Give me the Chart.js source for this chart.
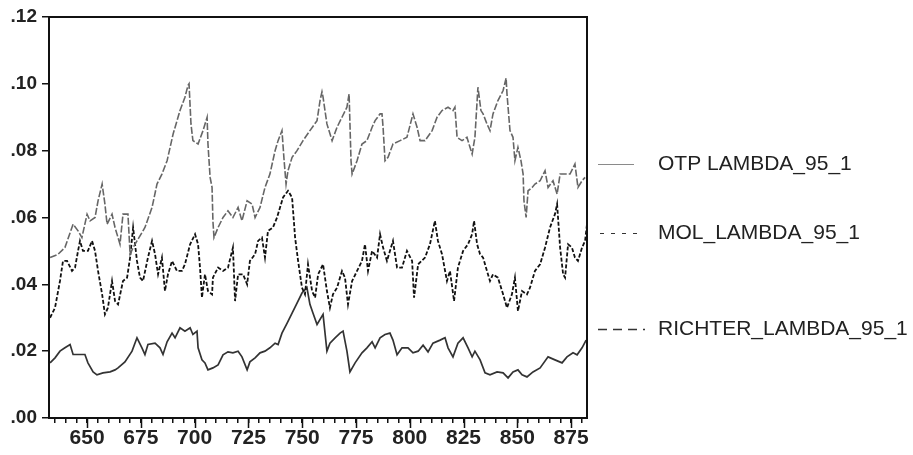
<!DOCTYPE html>
<html>
<head>
<meta charset="utf-8">
<script src="https://cdn.jsdelivr.net/npm/chart.js@4.4.1/dist/chart.umd.min.js"></script>
<style>
  body { margin: 0; background: #fff; }
  canvas { display: block; }
</style>
</head>
<body>
<canvas id="chart" width="913" height="455"></canvas>
<script>
const otpObs = [632.8, 636.5, 639.7, 643.5, 645.8, 647.6, 650.0, 651.4, 653.7, 655.1, 657.0, 658.3, 659.3, 661.6, 663.0, 665.3, 666.7, 669.0, 670.0, 671.4, 673.2, 676.9, 680.2, 682.5, 684.8, 687.2, 690.0, 693.2, 695.5, 696.9, 697.4, 698.3, 699.2, 701.6, 703.9, 705.8, 706.2, 707.2, 708.1, 708.5, 709.0, 710.9, 713.2, 715.5, 717.8, 720.2, 722.0, 724.4, 726.7, 728.1, 730.4, 732.7, 735.0, 737.4, 738.8, 740.6, 741.6, 742.5, 743.4, 745.3, 747.6, 750.4, 753.6, 756.9, 758.3, 759.2, 759.7, 761.5, 763.9, 766.2, 768.5, 770.8, 771.8, 772.7, 773.2, 775.5, 777.8, 780.1, 782.5, 783.9, 786.2, 787.1, 787.6, 788.5, 789.9, 792.2, 795.5, 798.7, 801.5, 803.4, 804.8, 807.1, 810.4, 812.7, 815.0, 817.8, 820.1, 821.0, 822.0, 824.3, 826.6, 828.0, 829.0, 830.3, 831.7, 833.1, 834.1, 835.9, 837.3, 838.7, 841.0, 843.4, 844.8, 845.2, 846.6, 848.0, 848.9, 850.3, 851.7, 852.7, 853.1, 854.1, 855.0, 856.9, 858.2, 860.6, 862.9, 864.3, 866.6, 868.5, 869.9, 872.2, 874.5, 876.8, 878.2, 880.1, 881.5];
const otpVal = [.048, .049, .051, .058, .056, .054, .061, .059, .060, .065, .070, .064, .058, .061, .057, .052, .061, .061, .049, .051, .053, .057, .063, .070, .073, .077, .085, .092, .096, .0995, .100, .088, .083, .082, .086, .090, .082, .072, .069, .059, .054, .057, .060, .062, .060, .063, .059, .065, .064, .060, .063, .069, .073, .080, .083, .086, .077, .070, .074, .078, .080, .083, .086, .089, .095, .0976, .096, .088, .083, .087, .090, .093, .097, .077, .073, .077, .082, .083, .087, .089, .091, .091, .087, .077, .078, .082, .083, .084, .091, .087, .083, .083, .086, .090, .092, .093, .092, .093, .084, .083, .084, .081, .079, .084, .099, .092, .091, .088, .086, .091, .095, .098, .1017, .097, .086, .084, .077, .081, .077, .073, .065, .060, .068, .069, .070, .071, .074, .069, .071, .067, .073, .073, .073, .076, .069, .071, .072];

const molObs = [632.8, 635.1, 637.4, 638.8, 640.7, 643.0, 644.4, 645.8, 646.7, 648.1, 650.4, 652.3, 653.7, 655.1, 657.0, 658.3, 659.7, 661.6, 663.0, 664.4, 666.7, 668.6, 670.0, 671.4, 673.2, 674.6, 676.0, 678.3, 680.2, 681.6, 683.0, 684.8, 686.2, 687.6, 689.5, 691.8, 694.1, 695.5, 697.9, 700.2, 701.6, 702.5, 703.4, 704.8, 706.2, 708.1, 708.5, 710.9, 713.2, 715.5, 717.8, 718.8, 720.2, 722.5, 724.4, 725.7, 728.1, 729.5, 731.3, 732.7, 734.1, 736.4, 738.3, 739.7, 741.1, 743.4, 745.3, 746.7, 748.1, 749.9, 751.3, 752.7, 754.6, 756.0, 757.4, 759.7, 761.5, 762.9, 764.3, 766.2, 768.5, 769.9, 771.3, 773.2, 775.5, 777.8, 779.2, 780.6, 782.5, 784.8, 786.2, 787.6, 789.4, 792.2, 794.1, 796.4, 798.7, 801.1, 802.0, 803.9, 807.1, 809.4, 811.7, 813.1, 815.0, 817.3, 818.7, 820.6, 822.4, 824.8, 827.1, 829.0, 829.9, 831.3, 832.7, 834.1, 835.9, 837.3, 838.7, 841.0, 843.4, 845.2, 847.5, 848.9, 850.3, 852.2, 854.5, 855.9, 858.2, 860.6, 862.9, 865.2, 867.5, 868.5, 869.9, 871.3, 872.2, 873.6, 875.4, 876.8, 878.2, 880.1, 881.5, 882.4];
const molVal = [.030, .033, .041, .047, .047, .044, .045, .050, .053, .050, .050, .053, .050, .044, .037, .031, .033, .041, .035, .034, .041, .042, .048, .057, .047, .042, .041, .048, .053, .049, .043, .048, .038, .043, .047, .044, .044, .046, .052, .055, .052, .045, .036, .043, .038, .037, .042, .045, .044, .045, .051, .035, .043, .043, .040, .047, .049, .053, .054, .048, .056, .057, .060, .063, .066, .068, .066, .054, .047, .039, .037, .046, .038, .036, .043, .046, .038, .033, .037, .039, .044, .042, .034, .041, .044, .047, .052, .044, .050, .048, .055, .051, .047, .053, .045, .045, .050, .047, .036, .046, .048, .052, .059, .053, .049, .041, .044, .035, .045, .050, .052, .055, .059, .052, .049, .048, .044, .041, .043, .042, .037, .033, .037, .042, .032, .038, .037, .039, .044, .046, .051, .057, .061, .064, .051, .043, .042, .052, .051, .048, .047, .051, .053, .058];

const richterObs = [632.8, 635.1, 637.4, 639.7, 642.1, 643.5, 645.8, 649.0, 650.4, 652.8, 654.6, 657.4, 660.7, 663.0, 664.4, 667.6, 670.9, 673.2, 675.5, 676.9, 678.3, 681.6, 683.9, 685.3, 687.2, 689.5, 690.9, 693.2, 695.5, 697.9, 699.2, 701.1, 701.6, 703.4, 704.8, 706.2, 708.5, 710.9, 713.2, 715.5, 717.8, 720.2, 722.0, 724.4, 725.7, 728.1, 730.4, 732.7, 735.0, 737.4, 738.8, 740.6, 743.0, 745.3, 747.6, 749.9, 752.2, 753.6, 755.0, 756.9, 759.7, 761.5, 762.9, 765.3, 767.6, 769.0, 770.8, 772.2, 774.6, 777.8, 780.1, 782.5, 783.9, 786.2, 788.5, 790.8, 792.2, 794.1, 796.4, 799.2, 801.5, 803.9, 806.2, 808.5, 810.8, 814.1, 816.4, 817.8, 820.1, 822.4, 824.8, 827.1, 829.0, 830.3, 832.7, 835.0, 837.3, 840.6, 843.4, 845.7, 848.0, 850.3, 852.2, 854.5, 857.3, 860.6, 864.3, 867.5, 870.8, 873.1, 875.9, 877.8, 880.1, 882.0];
const richterVal = [.0165, .018, .020, .021, .022, .019, .019, .019, .0165, .0138, .0129, .0135, .0138, .0144, .015, .0168, .020, .024, .021, .019, .022, .0224, .021, .019, .0228, .0254, .024, .027, .026, .027, .025, .026, .021, .0174, .0165, .0144, .015, .0159, .0189, .0198, .0195, .020, .0183, .0144, .0168, .018, .0195, .020, .021, .0224, .022, .0254, .0284, .0314, .0344, .0374, .039, .034, .0314, .028, .031, .020, .0224, .024, .0254, .026, .020, .0138, .0165, .0195, .021, .0228, .021, .024, .025, .0254, .0233, .0189, .021, .021, .0195, .020, .0218, .0198, .0224, .0233, .024, .021, .0183, .0224, .024, .021, .0183, .020, .0174, .0135, .0129, .0138, .0135, .012, .0138, .0144, .0129, .0123, .0138, .015, .0183, .0174, .0165, .0183, .0195, .0189, .021, .0233];

const seriesNames = ['OTP LAMBDA_95_1', 'MOL_LAMBDA_95_1', 'RICHTER_LAMBDA_95_1'];
const yTicks = [0, 0.02, 0.04, 0.06, 0.08, 0.10, 0.12];

function toPoints(obs, vals) {
    return obs.map((x, i) => ({ x: x, y: vals[i] }));
}

const FONT = '"Liberation Sans", Arial, sans-serif';

// frame, longer major ticks and the side legend
const extrasPlugin = {
    id: 'extras',
    afterDraw(chart) {
        const ctx = chart.ctx;
        const a = chart.chartArea;
        ctx.save();
        ctx.strokeStyle = '#111';
        ctx.lineWidth = 2;
        ctx.strokeRect(a.left, a.top, a.right - a.left, a.bottom - a.top);

        // major ticks every 25
        const xs = chart.scales.x;
        ctx.lineWidth = 1.5;
        ctx.beginPath();
        for (let v = 650; v <= 875; v += 25) {
            const px = Math.round(xs.getPixelForValue(v)) + 0.5;
            ctx.moveTo(px, a.bottom);
            ctx.lineTo(px, a.bottom + 10);
        }
        ctx.stroke();

        // legend
        const items = [
            { y: 164, color: '#8a8a8a', width: 1, dash: [], x1: 598, x2: 634 },
            { y: 233, color: '#333', width: 1.2, dash: [4, 7], x1: 600, x2: 644 },
            { y: 329, color: '#333', width: 1.5, dash: [9, 6], x1: 598, x2: 645 }
        ];
        items.forEach((it, i) => {
            ctx.strokeStyle = it.color;
            ctx.lineWidth = it.width;
            ctx.setLineDash(it.dash);
            ctx.beginPath();
            ctx.moveTo(it.x1, it.y + 0.5);
            ctx.lineTo(it.x2, it.y + 0.5);
            ctx.stroke();
            ctx.setLineDash([]);
            ctx.fillStyle = '#222';
            ctx.font = '21px ' + FONT;
            ctx.textBaseline = 'middle';
            ctx.textAlign = 'left';
            ctx.fillText(seriesNames[i], 658, it.y);
        });
        ctx.restore();
    }
};

new Chart(document.getElementById('chart'), {
    type: 'line',
    data: {
        datasets: [
            {
                label: seriesNames[0],
                data: toPoints(otpObs, otpVal),
                borderColor: '#666',
                borderWidth: 1.6,
                borderDash: [7, 2]
            },
            {
                label: seriesNames[1],
                data: toPoints(molObs, molVal),
                borderColor: '#111',
                borderWidth: 1.8,
                borderDash: [4, 2]
            },
            {
                label: seriesNames[2],
                data: toPoints(richterObs, richterVal),
                borderColor: '#333',
                borderWidth: 1.7
            }
        ]
    },
    options: {
        responsive: false,
        animation: false,
        events: [],
        elements: {
            point: { radius: 0 },
            line: { tension: 0, borderCapStyle: 'butt' }
        },
        layout: { padding: { left: 0, top: 17, right: 326, bottom: 0 } },
        plugins: {
            legend: { display: false },
            tooltip: { enabled: false }
        },
        scales: {
            x: {
                type: 'linear',
                min: 632.3,
                max: 882.4,
                afterFit(scale) { scale.height = 37; },
                border: { display: true, color: '#111', width: 2 },
                grid: { drawOnChartArea: false, drawTicks: true, tickLength: 5, color: '#111', lineWidth: 1.5 },
                ticks: {
                    stepSize: 5,
                    includeBounds: false,
                    autoSkip: false,
                    maxRotation: 0,
                    padding: 3,
                    color: '#222',
                    font: { family: FONT, size: 21, weight: 'bold' },
                    callback: v => (v % 25 === 0 ? String(v) : '')
                }
            },
            y: {
                min: 0,
                max: 0.12,
                afterFit(scale) { scale.width = 49; },
                afterBuildTicks(scale) { scale.ticks = yTicks.map(v => ({ value: v })); },
                border: { display: true, color: '#111', width: 2 },
                grid: { drawOnChartArea: false, drawTicks: true, tickLength: 7, color: '#111', lineWidth: 1.5 },
                ticks: {
                    padding: 5,
                    color: '#222',
                    font: { family: FONT, size: 19, weight: 'bold' },
                    callback: v => v.toFixed(2).replace(/^0/, '')
                }
            }
        }
    },
    plugins: [extrasPlugin]
});
</script>
</body>
</html>
